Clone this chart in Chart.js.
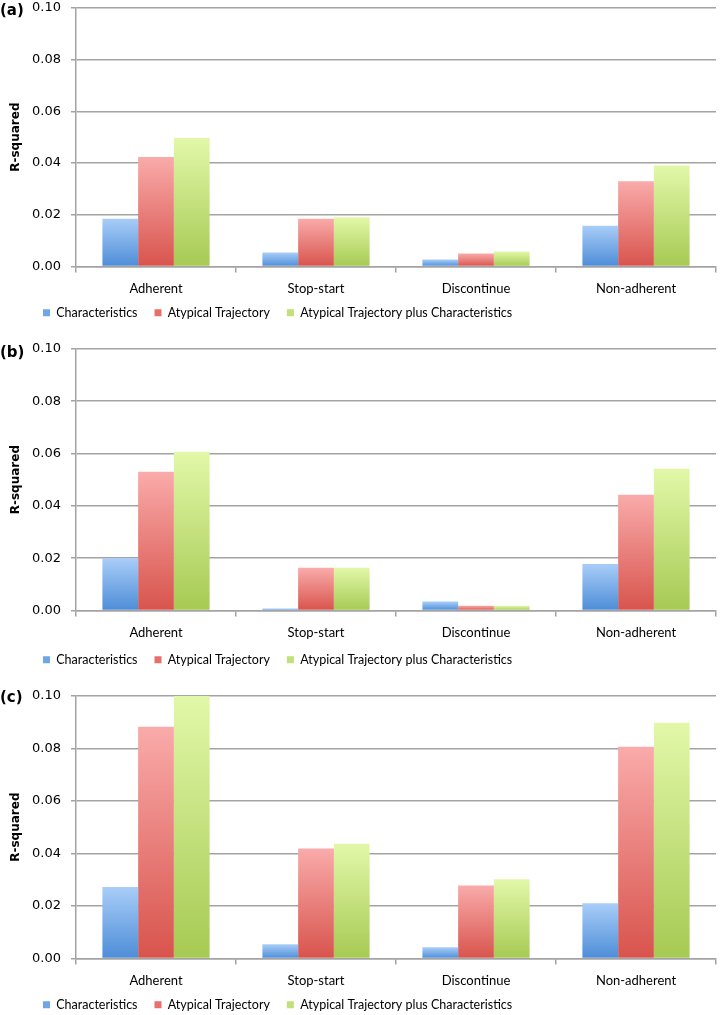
<!DOCTYPE html>
<html>
<head>
<meta charset="utf-8">
<script src="https://cdn.jsdelivr.net/npm/chart.js@4.4.1/dist/chart.umd.min.js"></script>
<style>
  html, body { margin: 0; padding: 0; background: #fff; width: 720px; height: 1015px; overflow: hidden; position: relative; }
  .panel { position: absolute; left: 0; width: 720px; }
  .panel canvas { position: absolute; left: 0; top: 0; }
  .plabel { position: absolute; left: 0; font: bold 15px "DejaVu Sans", sans-serif; color: #000; line-height: 16px; }
</style>
</head>
<body>
<div class="panel" style="top:-10px;height:347px"><canvas id="ca" width="720" height="347"></canvas></div>
<div class="panel" style="top:331px;height:350px"><canvas id="cb" width="720" height="350"></canvas></div>
<div class="panel" style="top:678px;height:351px"><canvas id="cc" width="720" height="351"></canvas></div>
<div class="plabel" style="top:2px">(a)</div>
<div class="plabel" style="top:344px">(b)</div>
<div class="plabel" style="top:689px">(c)</div>
<script>
const categories = ['Adherent', 'Stop-start', 'Discontinue', 'Non-adherent'];
const seriesNames = ['Characteristics', 'Atypical Trajectory', 'Atypical Trajectory plus Characteristics'];
const yTickValues = [0, 0.02, 0.04, 0.06, 0.08, 0.10];

// Panel (a)
const charA = [0.0185, 0.0054, 0.0027, 0.0158];
const trajA = [0.0423, 0.0185, 0.0050, 0.0330];
const bothA = [0.0497, 0.0190, 0.0058, 0.0390];
// Panel (b)
const charB = [0.0200, 0.0008, 0.0034, 0.0178];
const trajB = [0.0530, 0.0163, 0.0018, 0.0442];
const bothB = [0.0607, 0.0163, 0.0018, 0.0542];
// Panel (c)
const charC = [0.0272, 0.0054, 0.0043, 0.0210];
const trajC = [0.0882, 0.0419, 0.0278, 0.0806];
const bothC = [0.1000, 0.0437, 0.0302, 0.0897];

const palette = [
  { top: '#a9cdf8', bottom: '#4d8dd7', mid: '#6fa6e6' },
  { top: '#f9abaa', bottom: '#d8544d', mid: '#e8706a' },
  { top: '#e2f8a9', bottom: '#a6ca53', mid: '#bfe07a' }
];

function gradFor(i) {
  return function (ctx) {
    const chart = ctx.chart;
    if (!chart.chartArea || ctx.type !== 'data') return palette[i].mid;
    const y = chart.scales.y;
    const top = y.getPixelForValue(ctx.raw);
    const bot = y.getPixelForValue(0);
    if (!isFinite(top) || !isFinite(bot) || Math.abs(bot - top) < 0.5) return palette[i].mid;
    const g = chart.ctx.createLinearGradient(0, top, 0, bot);
    g.addColorStop(0, palette[i].top);
    g.addColorStop(1, palette[i].bottom);
    return g;
  };
}

const gridGray = '#a3a3a3';
const labelFont = 'Lato, "Liberation Sans", sans-serif';

function legendShift(shiftUp) {
  return {
    id: 'legendShift',
    afterLayout(chart) {
      const lg = chart.legend;
      if (lg) {
        lg.left = 26;
        lg.top -= shiftUp;
        lg.bottom -= shiftUp;
      }
    }
  };
}

function makeChart(id, series, shiftUp) {
  new Chart(document.getElementById(id), {
    type: 'bar',
    data: {
      labels: categories,
      datasets: series.map((vals, i) => ({
        label: seriesNames[i],
        data: vals,
        backgroundColor: gradFor(i),
        borderWidth: 0,
        categoryPercentage: 0.67,
        barPercentage: 1.0
      }))
    },
    options: {
      responsive: false,
      animation: false,
      devicePixelRatio: 1,
      layout: { padding: { top: 7, right: 4, left: 0, bottom: 0 } },
      plugins: {
        tooltip: { enabled: false },
        legend: {
          position: 'bottom',
          align: 'start',
          labels: {
            boxWidth: 7,
            boxHeight: 7,
            padding: 17,
            color: '#000',
            font: { family: labelFont, size: 12.5 },
            generateLabels(chart) {
              return seriesNames.map((n, i) => ({
                text: n,
                fillStyle: palette[i].mid,
                strokeStyle: palette[i].mid,
                lineWidth: 0,
                datasetIndex: i,
                hidden: false
              }));
            }
          }
        }
      },
      scales: {
        x: {
          grid: { display: true, drawOnChartArea: false, drawTicks: true, tickLength: 6, color: gridGray, lineWidth: 1.5 },
          border: { display: true, color: gridGray, width: 1.5 },
          ticks: { color: '#000', padding: 9, font: { family: labelFont, size: 13 } },
          afterFit(scale) { scale.height = 31; }
        },
        y: {
          min: 0,
          max: 0.10,
          afterBuildTicks(scale) { scale.ticks = yTickValues.map(v => ({ value: v })); },
          grid: { color: gridGray, lineWidth: 1.5, drawTicks: true, tickLength: 5 },
          border: { display: true, color: gridGray, width: 1.5 },
          ticks: {
            color: '#000',
            padding: 10,
            font: { family: '"DejaVu Sans", sans-serif', size: 13 },
            callback: (v) => Number(v).toFixed(2)
          },
          title: {
            display: true,
            text: 'R-squared',
            color: '#000',
            padding: { top: 9, bottom: 0 },
            font: { family: '"DejaVu Sans", sans-serif', size: 12, weight: 'bold' }
          },
          afterFit(scale) { scale.width = 76; }
        }
      }
    },
    plugins: [legendShift(shiftUp)]
  });
}

makeChart('ca', [charA, trajA, bothA], 8);
makeChart('cb', [charB, trajB, bothB], 5);
makeChart('cc', [charC, trajC, bothC], 8);
</script>
</body>
</html>
